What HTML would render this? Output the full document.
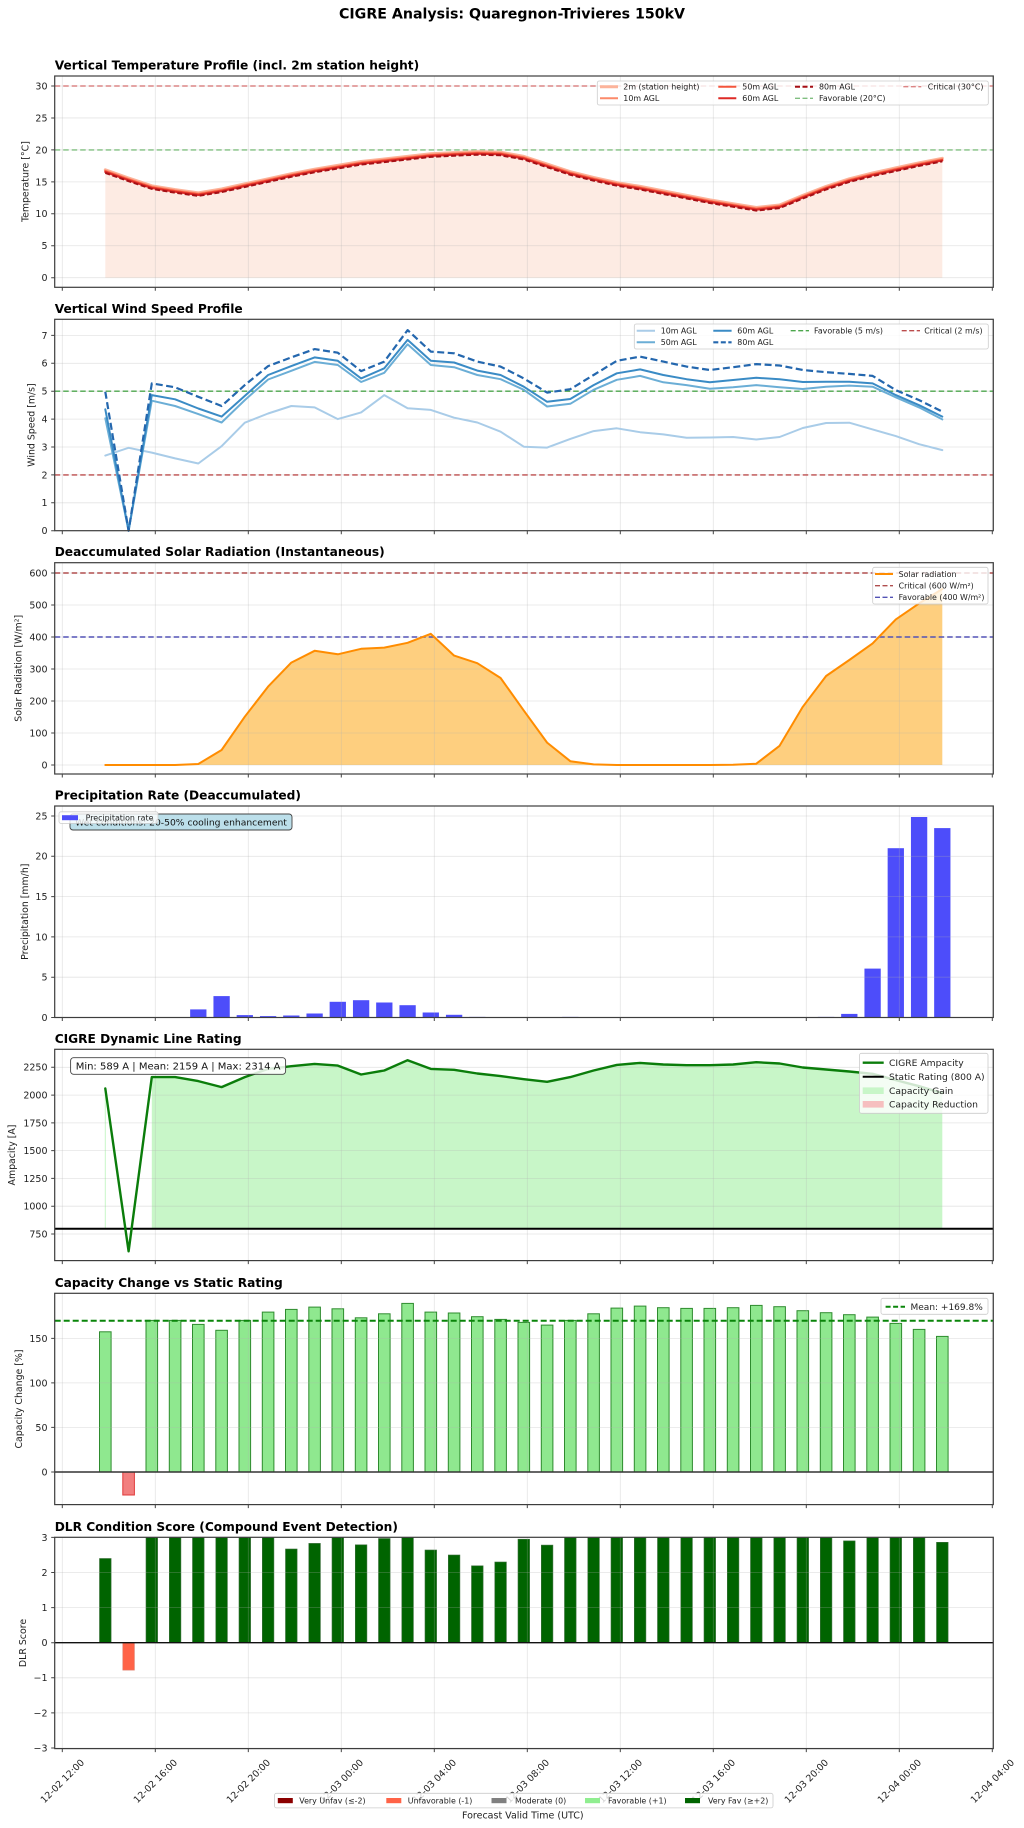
<!DOCTYPE html>
<html><head><meta charset="utf-8"><style>
html,body{margin:0;padding:0;background:#fff}
svg{display:block}
text{font-family:"DejaVu Sans","Liberation Sans",sans-serif;fill:#222}
.tk{font-size:9.5px;text-anchor:end}
.ttl{font-size:12.2px;font-weight:bold;fill:#000}
.yl{font-size:9.4px;text-anchor:middle}
.lg{font-size:7.9px}
.xl{font-size:9.4px;text-anchor:middle}
.gr{stroke:#b0b0b0;stroke-opacity:0.33;stroke-width:0.8;fill:none}
.sp{fill:none;stroke:#3d3d3d;stroke-width:1.2}
.tm{stroke:#444;stroke-width:1;fill:none}
.ln{fill:none;stroke-linejoin:round;stroke-linecap:round}
.lgb{fill:#fff;fill-opacity:0.8;stroke:#cccccc;stroke-width:0.8}
</style></head><body>
<svg width="1024" height="1828" viewBox="0 0 1024 1828" xmlns="http://www.w3.org/2000/svg">
<defs>
<path id="vg" class="gr" d="M62.3,0V211.3M155.3,0V211.3M248.3,0V211.3M341.3,0V211.3M434.3,0V211.3M527.3,0V211.3M620.3,0V211.3M713.3,0V211.3M806.3,0V211.3M899.3,0V211.3M992.3,0V211.3"/>
<path id="xt" class="tm" d="M62.3,0v3.5M155.3,0v3.5M248.3,0v3.5M341.3,0v3.5M434.3,0v3.5M527.3,0v3.5M620.3,0v3.5M713.3,0v3.5M806.3,0v3.5M899.3,0v3.5M992.3,0v3.5"/>
<polyline id="tp" points="105.3,171.6 128.6,179.9 151.8,187.6 175.1,191.4 198.3,194.6 221.6,190.8 244.8,185.7 268.1,180.6 291.3,175.5 314.6,171.0 337.8,167.2 361.1,163.3 384.3,160.8 407.6,158.2 430.8,155.6 454.1,154.4 477.3,153.4 500.6,154.0 523.8,158.2 547.1,165.9 570.3,173.5 593.6,179.3 616.8,184.4 640.1,188.2 663.3,192.7 686.6,197.2 709.8,201.7 733.1,205.5 756.3,209.3 779.6,206.8 802.8,197.2 826.1,188.2 849.3,180.6 872.6,174.8 895.8,169.7 919.1,164.6 942.3,160.1"/>
</defs>

<!-- Suptitle -->
<text x="512" y="18.3" style="font-size:14.2px;font-weight:bold;fill:#000;text-anchor:middle">CIGRE Analysis: Quaregnon-Trivieres 150kV</text>

<!-- ================= PANEL 1: Temperature ================= -->
<text class="ttl" x="54.7" y="69.5">Vertical Temperature Profile (incl. 2m station height)</text>
<polygon fill="#FDEBE3" points="105.3,169.8 128.6,178.1 151.8,185.8 175.1,189.6 198.3,192.8 221.6,189.0 244.8,183.9 268.1,178.8 291.3,173.7 314.6,169.2 337.8,165.4 361.1,161.5 384.3,159.0 407.6,156.4 430.8,153.8 454.1,152.6 477.3,151.6 500.6,152.2 523.8,156.4 547.1,164.1 570.3,171.7 593.6,177.5 616.8,182.6 640.1,186.4 663.3,190.9 686.6,195.4 709.8,199.9 733.1,203.7 756.3,207.5 779.6,205.0 802.8,195.4 826.1,186.4 849.3,178.8 872.6,173.0 895.8,167.9 919.1,162.8 942.3,158.3 942.3,277.7 105.3,277.7"/>
<use href="#vg" x="0" y="76"/>
<path class="gr" d="M54.7,277.7H993.3M54.7,245.75H993.3M54.7,213.8H993.3M54.7,181.85H993.3M54.7,149.9H993.3M54.7,117.95H993.3M54.7,86H993.3"/>
<path d="M54.7,86H993.3" stroke="#dc8585" stroke-width="1.4" stroke-dasharray="5.5,3" fill="none"/>
<path d="M54.7,149.9H993.3" stroke="#80bf80" stroke-width="1.4" stroke-dasharray="5.5,3" fill="none"/>
<use href="#tp" class="ln" transform="translate(0,-1.8)" stroke="#FCB39A" stroke-width="3"/>
<use href="#tp" class="ln" transform="translate(0,-1)" stroke="#FC8A6A" stroke-width="2"/>
<use href="#tp" class="ln" transform="translate(0,-0.3)" stroke="#F4553C" stroke-width="2"/>
<use href="#tp" class="ln" transform="translate(0,0.4)" stroke="#DE2A26" stroke-width="2"/>
<use href="#tp" class="ln" transform="translate(0,1.3)" stroke="#A50F15" stroke-width="2" stroke-dasharray="5,2.5" style="stroke-linecap:butt"/>
<!-- legend -->
<rect class="lgb" x="597.3" y="81" width="391" height="24" rx="2"/>
<path d="M600,86.7h18" stroke="#FCB39A" stroke-width="3"/>
<text class="lg" x="623.3" y="89.5">2m (station height)</text>
<path d="M600,98.3h18" stroke="#FC8A6A" stroke-width="2"/>
<text class="lg" x="623.3" y="101.1">10m AGL</text>
<path d="M718.3,86.7h18" stroke="#F4553C" stroke-width="2"/>
<text class="lg" x="742.3" y="89.5">50m AGL</text>
<path d="M718.3,98.3h18" stroke="#DE2A26" stroke-width="2"/>
<text class="lg" x="742.3" y="101.1">60m AGL</text>
<path d="M795,86.7h18" stroke="#A50F15" stroke-width="2" stroke-dasharray="5,2.5"/>
<text class="lg" x="819" y="89.5">80m AGL</text>
<path d="M795,98.3h18" stroke="#80bf80" stroke-width="1.4" stroke-dasharray="5,2.5"/>
<text class="lg" x="819" y="101.1">Favorable (20°C)</text>
<path d="M903.3,86.7h18" stroke="#dc8585" stroke-width="1.4" stroke-dasharray="5,2.5"/>
<text class="lg" x="927.7" y="89.5">Critical (30°C)</text>
<rect class="sp" x="54.7" y="76" width="938.6" height="211.3"/>
<path class="tm" d="M51.2,277.7h3.5M51.2,245.75h3.5M51.2,213.8h3.5M51.2,181.85h3.5M51.2,149.9h3.5M51.2,117.95h3.5M51.2,86h3.5"/>
<use href="#xt" x="0" y="287.3"/>
<text class="tk" x="47.5" y="281.1">0</text>
<text class="tk" x="47.5" y="249.15">5</text>
<text class="tk" x="47.5" y="217.2">10</text>
<text class="tk" x="47.5" y="185.25">15</text>
<text class="tk" x="47.5" y="153.3">20</text>
<text class="tk" x="47.5" y="121.35">25</text>
<text class="tk" x="47.5" y="89.4">30</text>
<text class="yl" transform="translate(25,181.6) rotate(-90)" dy="0.35em">Temperature [°C]</text>

<!-- ================= PANEL 2: Wind ================= -->
<text class="ttl" x="54.7" y="312.8">Vertical Wind Speed Profile</text>
<use href="#vg" x="0" y="319.3"/>
<path class="gr" d="M54.7,502.8H993.3M54.7,474.9H993.3M54.7,447H993.3M54.7,419.1H993.3M54.7,391.2H993.3M54.7,363.3H993.3M54.7,335.4H993.3"/>
<path d="M54.7,391.2H993.3" stroke="#4ca64c" stroke-width="1.4" stroke-dasharray="5.5,3" fill="none"/>
<path d="M54.7,474.9H993.3" stroke="#bb4c4c" stroke-width="1.4" stroke-dasharray="5.5,3" fill="none"/>
<polyline class="ln" stroke="#A9CCE8" stroke-width="2" points="105.3,455.6 128.6,447.8 151.8,452.6 175.1,458.4 198.3,463.5 221.6,446.2 244.8,422.7 268.1,413.5 291.3,406.0 314.6,407.4 337.8,419.1 361.1,412.4 384.3,395.1 407.6,408.2 430.8,409.9 454.1,417.7 477.3,422.5 500.6,431.7 523.8,446.7 547.1,447.6 570.3,438.9 593.6,431.1 616.8,428.3 640.1,432.2 663.3,434.4 686.6,437.8 709.8,437.5 733.1,437.0 756.3,439.5 779.6,437.0 802.8,428.0 826.1,423.0 849.3,422.7 872.6,429.4 895.8,436.1 919.1,444.2 942.3,450.1"/>
<polyline class="ln" stroke="#6BAED6" stroke-width="2" points="105.3,418.3 128.6,530.7 151.8,400.7 175.1,406.0 198.3,414.1 221.6,422.5 244.8,400.1 268.1,379.5 291.3,370.8 314.6,361.9 337.8,365.0 361.1,382.0 384.3,372.8 407.6,344.3 430.8,365.0 454.1,367.2 477.3,375.0 500.6,379.2 523.8,389.8 547.1,406.5 570.3,403.8 593.6,389.8 616.8,379.8 640.1,375.9 663.3,382.3 686.6,385.1 709.8,388.7 733.1,387.3 756.3,385.1 779.6,387.3 802.8,389.0 826.1,386.7 849.3,385.6 872.6,386.7 895.8,397.3 919.1,407.4 942.3,419.4"/>
<polyline class="ln" stroke="#3A8BC5" stroke-width="2" points="105.3,409.3 128.6,530.7 151.8,395.1 175.1,399.3 198.3,408.5 221.6,416.6 244.8,395.9 268.1,375.0 291.3,366.1 314.6,357.4 337.8,360.8 361.1,378.4 384.3,368.3 407.6,339.9 430.8,360.8 454.1,362.5 477.3,370.6 500.6,375.0 523.8,386.7 547.1,401.8 570.3,399.0 593.6,385.1 616.8,373.3 640.1,369.4 663.3,375.0 686.6,379.2 709.8,382.3 733.1,380.0 756.3,377.8 779.6,379.2 802.8,382.0 826.1,381.7 849.3,381.7 872.6,383.4 895.8,395.1 919.1,405.2 942.3,416.6"/>
<polyline class="ln" stroke="#2467AE" stroke-width="2.2" stroke-dasharray="7,3.5" style="stroke-linecap:butt" points="105.3,391.8 128.6,530.7 151.8,383.4 175.1,387.3 198.3,396.8 221.6,406.0 244.8,385.1 268.1,366.1 291.3,357.4 314.6,349.1 337.8,352.7 361.1,371.1 384.3,361.6 407.6,330.1 430.8,351.6 454.1,353.3 477.3,361.6 500.6,366.6 523.8,378.4 547.1,392.6 570.3,389.2 593.6,375.0 616.8,360.8 640.1,356.6 663.3,361.6 686.6,366.6 709.8,370.0 733.1,367.2 756.3,364.1 779.6,365.5 802.8,370.0 826.1,372.2 849.3,373.9 872.6,375.9 895.8,390.1 919.1,400.1 942.3,411.6"/>
<rect class="lgb" x="634.3" y="324" width="354" height="25" rx="2"/>
<path d="M636.7,330.7h18.3" stroke="#A9CCE8" stroke-width="2"/>
<text class="lg" x="660.7" y="333.5">10m AGL</text>
<path d="M636.7,342.3h18.3" stroke="#6BAED6" stroke-width="2"/>
<text class="lg" x="660.7" y="345.1">50m AGL</text>
<path d="M713.3,330.7h18.3" stroke="#3A8BC5" stroke-width="2"/>
<text class="lg" x="737.3" y="333.5">60m AGL</text>
<path d="M713.3,342.3h18.3" stroke="#2467AE" stroke-width="2.2" stroke-dasharray="5,2.5"/>
<text class="lg" x="737.3" y="345.1">80m AGL</text>
<path d="M790.7,330.7h18.3" stroke="#4ca64c" stroke-width="1.4" stroke-dasharray="5,2.5"/>
<text class="lg" x="814" y="333.5">Favorable (5 m/s)</text>
<path d="M901.7,330.7h18.3" stroke="#bb4c4c" stroke-width="1.4" stroke-dasharray="5,2.5"/>
<text class="lg" x="924.3" y="333.5">Critical (2 m/s)</text>
<rect class="sp" x="54.7" y="319.3" width="938.6" height="211.4"/>
<path class="tm" d="M51.2,530.7h3.5M51.2,502.8h3.5M51.2,474.9h3.5M51.2,447h3.5M51.2,419.1h3.5M51.2,391.2h3.5M51.2,363.3h3.5M51.2,335.4h3.5"/>
<use href="#xt" x="0" y="530.7"/>
<text class="tk" x="47.5" y="534.1">0</text>
<text class="tk" x="47.5" y="506.2">1</text>
<text class="tk" x="47.5" y="478.3">2</text>
<text class="tk" x="47.5" y="450.4">3</text>
<text class="tk" x="47.5" y="422.5">4</text>
<text class="tk" x="47.5" y="394.6">5</text>
<text class="tk" x="47.5" y="366.7">6</text>
<text class="tk" x="47.5" y="338.8">7</text>
<text class="yl" transform="translate(31,425) rotate(-90)" dy="0.35em">Wind Speed [m/s]</text>

<!-- ================= PANEL 3: Solar ================= -->
<text class="ttl" x="54.7" y="556.2">Deaccumulated Solar Radiation (Instantaneous)</text>
<polygon fill="#FECF7F" points="105.3,765 128.6,765 151.8,765 175.1,765 198.3,764.0 221.6,750.0 244.8,716.7 268.1,686.6 291.3,662.6 314.6,650.8 337.8,654.3 361.1,648.8 384.3,647.6 407.6,642.8 430.8,633.8 454.1,655.6 477.3,663.2 500.6,678.0 523.8,710.6 547.1,742.6 570.3,761.2 593.6,764.4 616.8,765 640.1,765 663.3,765 686.6,765 709.8,765 733.1,764.7 756.3,763.7 779.6,745.8 802.8,706.8 826.1,676.0 849.3,660.0 872.6,643.4 895.8,619.4 919.1,603.4 942.3,589.0 942.3,765 105.3,765"/>
<use href="#vg" x="0" y="562.7"/>
<path class="gr" d="M54.7,765H993.3M54.7,733H993.3M54.7,701H993.3M54.7,669H993.3M54.7,637H993.3M54.7,605H993.3M54.7,573H993.3"/>
<path d="M54.7,573H993.3" stroke="#b04e4e" stroke-width="1.4" stroke-dasharray="5.5,3" fill="none"/>
<path d="M54.7,637H993.3" stroke="#5252b5" stroke-width="1.4" stroke-dasharray="5.5,3" fill="none"/>
<polyline class="ln" stroke="#FF8C00" stroke-width="2" points="105.3,765 128.6,765 151.8,765 175.1,765 198.3,764.0 221.6,750.0 244.8,716.7 268.1,686.6 291.3,662.6 314.6,650.8 337.8,654.3 361.1,648.8 384.3,647.6 407.6,642.8 430.8,633.8 454.1,655.6 477.3,663.2 500.6,678.0 523.8,710.6 547.1,742.6 570.3,761.2 593.6,764.4 616.8,765 640.1,765 663.3,765 686.6,765 709.8,765 733.1,764.7 756.3,763.7 779.6,745.8 802.8,706.8 826.1,676.0 849.3,660.0 872.6,643.4 895.8,619.4 919.1,603.4 942.3,589.0"/>
<rect class="lgb" x="872.7" y="567.3" width="115.3" height="36.7" rx="2"/>
<path d="M875,574h18" stroke="#FF8C00" stroke-width="2"/>
<text class="lg" x="898.6" y="576.8">Solar radiation</text>
<path d="M875,585.7h18" stroke="#b04e4e" stroke-width="1.4" stroke-dasharray="5,2.5"/>
<text class="lg" x="898.6" y="588.5">Critical (600 W/m²)</text>
<path d="M875,597.3h18" stroke="#5252b5" stroke-width="1.4" stroke-dasharray="5,2.5"/>
<text class="lg" x="898.6" y="600.1">Favorable (400 W/m²)</text>
<rect class="sp" x="54.7" y="562.7" width="938.6" height="211.3"/>
<path class="tm" d="M51.2,765h3.5M51.2,733h3.5M51.2,701h3.5M51.2,669h3.5M51.2,637h3.5M51.2,605h3.5M51.2,573h3.5"/>
<use href="#xt" x="0" y="774"/>
<text class="tk" x="47.5" y="768.4">0</text>
<text class="tk" x="47.5" y="736.4">100</text>
<text class="tk" x="47.5" y="704.4">200</text>
<text class="tk" x="47.5" y="672.4">300</text>
<text class="tk" x="47.5" y="640.4">400</text>
<text class="tk" x="47.5" y="608.4">500</text>
<text class="tk" x="47.5" y="576.4">600</text>
<text class="yl" transform="translate(18,668.3) rotate(-90)" dy="0.35em">Solar Radiation [W/m²]</text>

<!-- ================= PANEL 4: Precipitation ================= -->
<text class="ttl" x="54.7" y="799.5">Precipitation Rate (Deaccumulated)</text>
<g fill="#4D4DFA">
<rect x="190.15" y="1009.4" width="16.3" height="8.1"/>
<rect x="213.45" y="996.1" width="16.3" height="21.4"/>
<rect x="236.65" y="1015.1" width="16.3" height="2.4"/>
<rect x="259.95" y="1016.1" width="16.3" height="1.4"/>
<rect x="283.15" y="1015.5" width="16.3" height="2.0"/>
<rect x="306.45" y="1013.5" width="16.3" height="4.0"/>
<rect x="329.65" y="1001.8" width="16.3" height="15.7"/>
<rect x="352.95" y="1000.2" width="16.3" height="17.3"/>
<rect x="376.15" y="1002.5" width="16.3" height="15.0"/>
<rect x="399.45" y="1005.2" width="16.3" height="12.3"/>
<rect x="422.65" y="1012.5" width="16.3" height="5.0"/>
<rect x="445.95" y="1014.8" width="16.3" height="2.7"/>
<rect x="469.15" y="1016.9" width="16.3" height="0.6"/>
<rect x="562.15" y="1016.9" width="16.3" height="0.6"/>
<rect x="817.95" y="1016.9" width="16.3" height="0.6"/>
<rect x="841.15" y="1013.9" width="16.3" height="3.6"/>
<rect x="864.45" y="968.6" width="16.3" height="48.9"/>
<rect x="887.65" y="848.2" width="16.3" height="169.3"/>
<rect x="910.95" y="817.0" width="16.3" height="200.5"/>
<rect x="934.15" y="828.1" width="16.3" height="189.4"/>
</g>
<use href="#vg" x="0" y="806"/>
<path class="gr" d="M54.7,1017.5H993.3M54.7,977.2H993.3M54.7,936.9H993.3M54.7,896.6H993.3M54.7,856.3H993.3M54.7,816H993.3"/>
<rect x="70" y="814" width="222" height="16" rx="3" fill="#BCDFEA" stroke="#444" stroke-width="0.9"/>
<text x="181" y="825.3" style="font-size:9.2px;text-anchor:middle;fill:#111">Wet conditions: 20-50% cooling enhancement</text>
<rect class="lgb" x="59" y="811.8" width="99" height="11.6" rx="2"/>
<rect x="62" y="815.2" width="16" height="5" fill="#4D4DFA"/>
<text class="lg" x="85.6" y="820.5">Precipitation rate</text>
<rect class="sp" x="54.7" y="806" width="938.6" height="211.5"/>
<path class="tm" d="M51.2,1017.5h3.5M51.2,977.2h3.5M51.2,936.9h3.5M51.2,896.6h3.5M51.2,856.3h3.5M51.2,816h3.5"/>
<use href="#xt" x="0" y="1017.5"/>
<text class="tk" x="47.5" y="1020.9">0</text>
<text class="tk" x="47.5" y="980.6">5</text>
<text class="tk" x="47.5" y="940.3">10</text>
<text class="tk" x="47.5" y="900">15</text>
<text class="tk" x="47.5" y="859.7">20</text>
<text class="tk" x="47.5" y="819.4">25</text>
<text class="yl" transform="translate(24.5,911.7) rotate(-90)" dy="0.35em">Precipitation [mm/h]</text>

<!-- ================= PANEL 5: Ampacity ================= -->
<text class="ttl" x="54.7" y="1042.8">CIGRE Dynamic Line Rating</text>
<polygon fill="#C8F6C8" points="151.8,1077.1 175.1,1077.1 198.3,1081.1 221.6,1087.1 244.8,1077.1 268.1,1068.9 291.3,1066.2 314.6,1063.9 337.8,1065.6 361.1,1074.5 384.3,1070.5 407.6,1060.2 430.8,1068.9 454.1,1069.8 477.3,1073.5 500.6,1076.1 523.8,1079.2 547.1,1081.8 570.3,1077.1 593.6,1070.5 616.8,1064.9 640.1,1062.9 663.3,1064.5 686.6,1065.2 709.8,1065.2 733.1,1064.5 756.3,1062.2 779.6,1063.5 802.8,1067.5 826.1,1069.5 849.3,1071.5 872.6,1073.8 895.8,1080.1 919.1,1086.2 942.3,1093.1 942.3,1228.7 151.8,1228.7"/>
<path d="M105.3,1088.5V1228.7" stroke="#C8F6C8" stroke-width="1" fill="none"/>
<use href="#vg" x="0" y="1049.3"/>
<path class="gr" d="M54.7,1234H993.3M54.7,1206.2H993.3M54.7,1178.4H993.3M54.7,1150.6H993.3M54.7,1122.9H993.3M54.7,1095.1H993.3M54.7,1067.3H993.3"/>
<path d="M54.7,1228.7H993.3" stroke="#000" stroke-width="2" fill="none"/>
<polyline class="ln" stroke="#0b7d0b" stroke-width="2.4" points="105.3,1088.5 128.6,1251.3 151.8,1077.1 175.1,1077.1 198.3,1081.1 221.6,1087.1 244.8,1077.1 268.1,1068.9 291.3,1066.2 314.6,1063.9 337.8,1065.6 361.1,1074.5 384.3,1070.5 407.6,1060.2 430.8,1068.9 454.1,1069.8 477.3,1073.5 500.6,1076.1 523.8,1079.2 547.1,1081.8 570.3,1077.1 593.6,1070.5 616.8,1064.9 640.1,1062.9 663.3,1064.5 686.6,1065.2 709.8,1065.2 733.1,1064.5 756.3,1062.2 779.6,1063.5 802.8,1067.5 826.1,1069.5 849.3,1071.5 872.6,1073.8 895.8,1080.1 919.1,1086.2 942.3,1093.1"/>
<rect x="70.6" y="1057.7" width="215" height="16.6" rx="3" fill="#fff" fill-opacity="0.85" stroke="#444" stroke-width="0.9"/>
<text x="178.1" y="1069.6" style="font-size:10px;text-anchor:middle;fill:#111">Min: 589 A | Mean: 2159 A | Max: 2314 A</text>
<rect class="lgb" x="859.5" y="1053.3" width="128.5" height="60" rx="2"/>
<path d="M862.7,1062.7h21" stroke="#0b7d0b" stroke-width="2.4"/>
<text class="lg" style="font-size:9.2px" x="889" y="1065.9">CIGRE Ampacity</text>
<path d="M862.7,1076.7h21" stroke="#000" stroke-width="2"/>
<text class="lg" style="font-size:9.2px" x="889" y="1079.9">Static Rating (800 A)</text>
<rect x="862.7" y="1087.4" width="21" height="6.6" fill="#C8F6C8"/>
<text class="lg" style="font-size:9.2px" x="889" y="1093.9">Capacity Gain</text>
<rect x="862.7" y="1101" width="21" height="6.6" fill="#F6BFBF"/>
<text class="lg" style="font-size:9.2px" x="889" y="1107.5">Capacity Reduction</text>
<rect class="sp" x="54.7" y="1049.3" width="938.6" height="211.3"/>
<path class="tm" d="M51.2,1234h3.5M51.2,1206.2h3.5M51.2,1178.4h3.5M51.2,1150.6h3.5M51.2,1122.9h3.5M51.2,1095.1h3.5M51.2,1067.3h3.5"/>
<use href="#xt" x="0" y="1260.6"/>
<text class="tk" x="47.5" y="1237.4">750</text>
<text class="tk" x="47.5" y="1209.6">1000</text>
<text class="tk" x="47.5" y="1181.8">1250</text>
<text class="tk" x="47.5" y="1154">1500</text>
<text class="tk" x="47.5" y="1126.3">1750</text>
<text class="tk" x="47.5" y="1098.5">2000</text>
<text class="tk" x="47.5" y="1070.7">2250</text>
<text class="yl" transform="translate(11.5,1155) rotate(-90)" dy="0.35em">Ampacity [A]</text>

<!-- ================= PANEL 6: Capacity change ================= -->
<text class="ttl" x="54.7" y="1286.8">Capacity Change vs Static Rating</text>
<g fill="#8FE88F" stroke="#2e8b2e" stroke-width="1">
<rect x="99.5" y="1331.8" width="11.6" height="140.2"/>
<rect x="146.0" y="1320.4" width="11.6" height="151.6"/>
<rect x="169.3" y="1320.4" width="11.6" height="151.6"/>
<rect x="192.5" y="1324.4" width="11.6" height="147.6"/>
<rect x="215.8" y="1330.3" width="11.6" height="141.7"/>
<rect x="239.0" y="1320.4" width="11.6" height="151.6"/>
<rect x="262.3" y="1312.1" width="11.6" height="159.9"/>
<rect x="285.5" y="1309.4" width="11.6" height="162.6"/>
<rect x="308.8" y="1307.1" width="11.6" height="164.9"/>
<rect x="332.0" y="1308.8" width="11.6" height="163.2"/>
<rect x="355.3" y="1317.8" width="11.6" height="154.2"/>
<rect x="378.5" y="1313.8" width="11.6" height="158.2"/>
<rect x="401.8" y="1303.4" width="11.6" height="168.6"/>
<rect x="425.0" y="1312.1" width="11.6" height="159.9"/>
<rect x="448.3" y="1313.0" width="11.6" height="159.0"/>
<rect x="471.5" y="1316.7" width="11.6" height="155.3"/>
<rect x="494.8" y="1319.4" width="11.6" height="152.6"/>
<rect x="518.0" y="1322.4" width="11.6" height="149.6"/>
<rect x="541.3" y="1325.1" width="11.6" height="146.9"/>
<rect x="564.5" y="1320.4" width="11.6" height="151.6"/>
<rect x="587.8" y="1313.8" width="11.6" height="158.2"/>
<rect x="611.0" y="1308.1" width="11.6" height="163.9"/>
<rect x="634.3" y="1306.1" width="11.6" height="165.9"/>
<rect x="657.5" y="1307.7" width="11.6" height="164.3"/>
<rect x="680.8" y="1308.4" width="11.6" height="163.6"/>
<rect x="704.0" y="1308.4" width="11.6" height="163.6"/>
<rect x="727.3" y="1307.7" width="11.6" height="164.3"/>
<rect x="750.5" y="1305.4" width="11.6" height="166.6"/>
<rect x="773.8" y="1306.7" width="11.6" height="165.3"/>
<rect x="797.0" y="1310.7" width="11.6" height="161.3"/>
<rect x="820.3" y="1312.7" width="11.6" height="159.3"/>
<rect x="843.5" y="1314.7" width="11.6" height="157.3"/>
<rect x="866.8" y="1317.1" width="11.6" height="154.9"/>
<rect x="890.0" y="1323.4" width="11.6" height="148.6"/>
<rect x="913.3" y="1329.4" width="11.6" height="142.6"/>
<rect x="936.5" y="1336.4" width="11.6" height="135.6"/>
</g>
<rect x="122.8" y="1472" width="11.6" height="23" fill="#F27F7F" stroke="#e03a3a" stroke-width="1"/>
<use href="#vg" x="0" y="1293.3"/>
<path class="gr" d="M54.7,1472H993.3M54.7,1427.4H993.3M54.7,1382.9H993.3M54.7,1338.4H993.3"/>
<path d="M54.7,1472H993.3" stroke="#333" stroke-width="1.5" fill="none"/>
<path d="M54.7,1320.7H993.3" stroke="#0a850a" stroke-width="2" stroke-dasharray="6,3" fill="none"/>
<rect class="lgb" x="881" y="1298.3" width="107" height="16" rx="2"/>
<path d="M885.6,1306.7h19.4" stroke="#0a850a" stroke-width="2" stroke-dasharray="5,2.5"/>
<text class="lg" style="font-size:9px" x="910.5" y="1309.9">Mean: +169.8%</text>
<rect class="sp" x="54.7" y="1293.3" width="938.6" height="211.3"/>
<path class="tm" d="M51.2,1472h3.5M51.2,1427.4h3.5M51.2,1382.9h3.5M51.2,1338.4h3.5"/>
<use href="#xt" x="0" y="1504.6"/>
<text class="tk" x="47.5" y="1475.4">0</text>
<text class="tk" x="47.5" y="1430.8">50</text>
<text class="tk" x="47.5" y="1386.3">100</text>
<text class="tk" x="47.5" y="1341.8">150</text>
<text class="yl" transform="translate(18.5,1399) rotate(-90)" dy="0.35em">Capacity Change [%]</text>

<!-- ================= PANEL 7: DLR Score ================= -->
<text class="ttl" x="54.7" y="1530.8">DLR Condition Score (Compound Event Detection)</text>
<g fill="#006400" stroke="#3d6f3d" stroke-width="0.6">
<rect x="99.5" y="1558.5" width="11.6" height="84.2"/>
<rect x="146.0" y="1537.4" width="11.6" height="105.3"/>
<rect x="169.3" y="1537.4" width="11.6" height="105.3"/>
<rect x="192.5" y="1537.4" width="11.6" height="105.3"/>
<rect x="215.8" y="1537.4" width="11.6" height="105.3"/>
<rect x="239.0" y="1537.4" width="11.6" height="105.3"/>
<rect x="262.3" y="1537.4" width="11.6" height="105.3"/>
<rect x="285.5" y="1549.0" width="11.6" height="93.7"/>
<rect x="308.8" y="1543.4" width="11.6" height="99.3"/>
<rect x="332.0" y="1537.4" width="11.6" height="105.3"/>
<rect x="355.3" y="1544.8" width="11.6" height="97.9"/>
<rect x="378.5" y="1538.5" width="11.6" height="104.2"/>
<rect x="401.8" y="1537.4" width="11.6" height="105.3"/>
<rect x="425.0" y="1550.0" width="11.6" height="92.7"/>
<rect x="448.3" y="1555.0" width="11.6" height="87.7"/>
<rect x="471.5" y="1565.8" width="11.6" height="76.9"/>
<rect x="494.8" y="1562.0" width="11.6" height="80.7"/>
<rect x="518.0" y="1539.2" width="11.6" height="103.5"/>
<rect x="541.3" y="1545.1" width="11.6" height="97.6"/>
<rect x="564.5" y="1537.4" width="11.6" height="105.3"/>
<rect x="587.8" y="1537.4" width="11.6" height="105.3"/>
<rect x="611.0" y="1537.4" width="11.6" height="105.3"/>
<rect x="634.3" y="1537.4" width="11.6" height="105.3"/>
<rect x="657.5" y="1537.4" width="11.6" height="105.3"/>
<rect x="680.8" y="1537.4" width="11.6" height="105.3"/>
<rect x="704.0" y="1537.4" width="11.6" height="105.3"/>
<rect x="727.3" y="1537.4" width="11.6" height="105.3"/>
<rect x="750.5" y="1537.4" width="11.6" height="105.3"/>
<rect x="773.8" y="1537.4" width="11.6" height="105.3"/>
<rect x="797.0" y="1537.4" width="11.6" height="105.3"/>
<rect x="820.3" y="1537.4" width="11.6" height="105.3"/>
<rect x="843.5" y="1540.9" width="11.6" height="101.8"/>
<rect x="866.8" y="1537.4" width="11.6" height="105.3"/>
<rect x="890.0" y="1537.4" width="11.6" height="105.3"/>
<rect x="913.3" y="1537.4" width="11.6" height="105.3"/>
<rect x="936.5" y="1542.3" width="11.6" height="100.4"/>
</g>
<rect x="122.8" y="1642.7" width="11.6" height="27.4" fill="#FF6347" stroke="#e07a66" stroke-width="0.6"/>
<use href="#vg" x="0" y="1537.3"/>
<path class="gr" d="M54.7,1537.4H993.3M54.7,1572.5H993.3M54.7,1607.6H993.3M54.7,1642.7H993.3M54.7,1677.8H993.3M54.7,1712.9H993.3M54.7,1748H993.3"/>
<path d="M54.7,1642.7H993.3" stroke="#111" stroke-width="1.4" fill="none"/>
<rect class="sp" x="54.7" y="1537.3" width="938.6" height="211.3"/>
<path class="tm" d="M51.2,1537.4h3.5M51.2,1572.5h3.5M51.2,1607.6h3.5M51.2,1642.7h3.5M51.2,1677.8h3.5M51.2,1712.9h3.5M51.2,1748h3.5"/>
<use href="#xt" x="0" y="1748.6"/>
<text class="tk" x="47.5" y="1540.8">3</text>
<text class="tk" x="47.5" y="1575.9">2</text>
<text class="tk" x="47.5" y="1611">1</text>
<text class="tk" x="47.5" y="1646.1">0</text>
<text class="tk" x="47.5" y="1681.2">−1</text>
<text class="tk" x="47.5" y="1716.3">−2</text>
<text class="tk" x="47.5" y="1751.4">−3</text>
<text class="yl" transform="translate(22.5,1643) rotate(-90)" dy="0.35em">DLR Score</text>

<!-- x tick labels -->
<g class="xl">
<text class="xl" transform="translate(62.3,1781) rotate(-45)" dy="0.35em">12-02 12:00</text>
<text class="xl" transform="translate(155.3,1781) rotate(-45)" dy="0.35em">12-02 16:00</text>
<text class="xl" transform="translate(248.3,1781) rotate(-45)" dy="0.35em">12-02 20:00</text>
<text class="xl" transform="translate(341.3,1781) rotate(-45)" dy="0.35em">12-03 00:00</text>
<text class="xl" transform="translate(434.3,1781) rotate(-45)" dy="0.35em">12-03 04:00</text>
<text class="xl" transform="translate(527.3,1781) rotate(-45)" dy="0.35em">12-03 08:00</text>
<text class="xl" transform="translate(620.3,1781) rotate(-45)" dy="0.35em">12-03 12:00</text>
<text class="xl" transform="translate(713.3,1781) rotate(-45)" dy="0.35em">12-03 16:00</text>
<text class="xl" transform="translate(806.3,1781) rotate(-45)" dy="0.35em">12-03 20:00</text>
<text class="xl" transform="translate(899.3,1781) rotate(-45)" dy="0.35em">12-04 00:00</text>
<text class="xl" transform="translate(992.3,1781) rotate(-45)" dy="0.35em">12-04 04:00</text>
</g>

<!-- bottom legend -->
<rect class="lgb" x="274.5" y="1793.3" width="498.5" height="14.6" rx="2"/>
<rect x="277.8" y="1798" width="15" height="5.2" fill="#8B0000"/>
<text class="lg" x="299.3" y="1803.3">Very Unfav (≤-2)</text>
<rect x="386.3" y="1798" width="15" height="5.2" fill="#FF6347"/>
<text class="lg" x="407.8" y="1803.3">Unfavorable (-1)</text>
<rect x="491.5" y="1798" width="15" height="5.2" fill="#808080"/>
<text class="lg" x="515" y="1803.3">Moderate (0)</text>
<rect x="585" y="1798" width="15" height="5.2" fill="#90EE90"/>
<text class="lg" x="608" y="1803.3">Favorable (+1)</text>
<rect x="685" y="1798" width="15" height="5.2" fill="#006400"/>
<text class="lg" x="708" y="1803.3">Very Fav (≥+2)</text>

<text x="522.8" y="1818.5" style="font-size:9.5px;text-anchor:middle;fill:#222">Forecast Valid Time (UTC)</text>
</svg>
</body></html>
